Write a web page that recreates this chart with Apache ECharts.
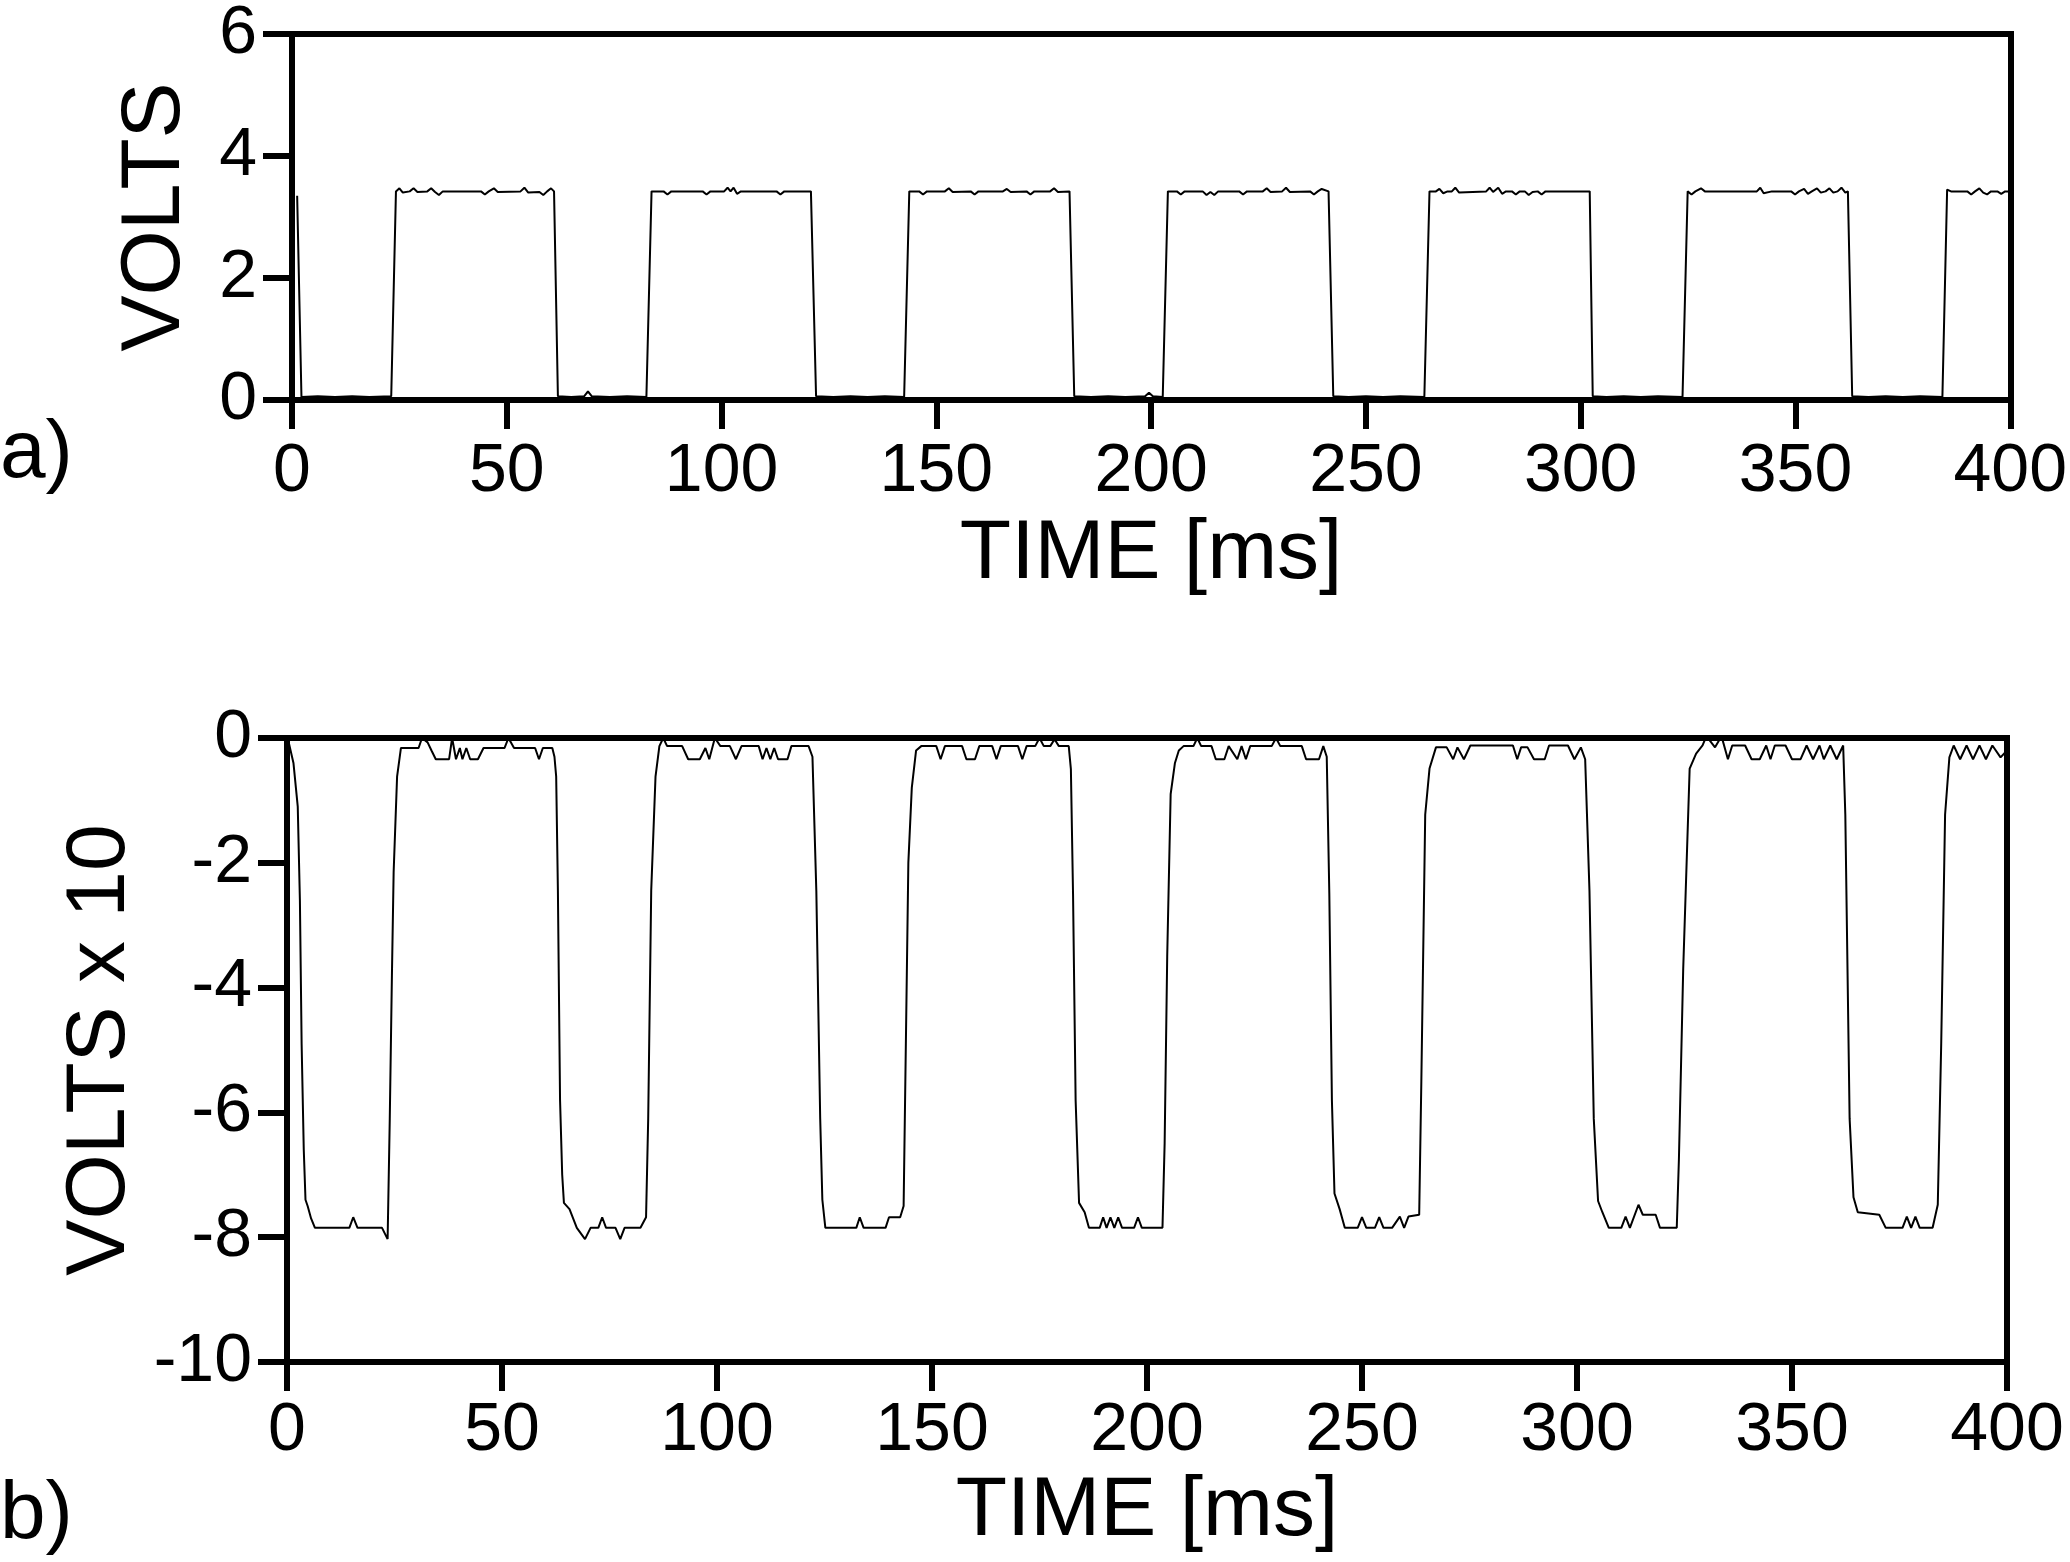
<!DOCTYPE html>
<html>
<head>
<meta charset="utf-8">
<script src="https://cdn.jsdelivr.net/npm/echarts@6/dist/echarts.min.js"></script>
<style>
html,body{margin:0;padding:0;background:#fff;}
#chart{width:2070px;height:1562px;}
</style>
</head>
<body>
<div id="chart"></div>
<script>
// ---- data ----
const xTicks = [0, 50, 100, 150, 200, 250, 300, 350, 400];
const yTicksA = [0, 2, 4, 6];
const yTicksB = [-10, -8, -6, -4, -2, 0];
const panelLabels = ['a)', 'b)'];
const xName = 'TIME [ms]';
const yNameA = 'VOLTS';
const yNameB = 'VOLTS x 10';

// panel a) : time [ms], volts
const seriesA = [
[1.2,3.35],[2.2,0.05],[6,0.06],[10,0.05],[14,0.06],[18,0.05],[23.1,0.06],
[24.2,3.42],[25.0,3.47],[25.8,3.40],[27.4,3.42],[28.3,3.47],[29.2,3.41],[31.5,3.42],[32.4,3.47],[33.3,3.41],[34.2,3.36],[35.1,3.42],[44.0,3.42],[44.9,3.37],[45.8,3.42],[47.0,3.47],[47.9,3.41],[53.2,3.42],[54.1,3.48],[55.0,3.40],[57.6,3.41],[58.5,3.36],[59.4,3.42],[60.3,3.47],[61.0,3.42],
[61.9,0.06],[65,0.05],[68.0,0.06],[68.9,0.14],[69.8,0.06],[74,0.05],[78,0.06],[82.5,0.05],
[83.7,3.42],[86.5,3.42],[87.4,3.37],[88.3,3.42],[95.6,3.42],[96.5,3.37],[97.4,3.42],[100.6,3.42],[101.4,3.48],[102.1,3.42],[102.8,3.48],[103.6,3.38],[104.5,3.42],[112.8,3.42],[113.7,3.37],[114.6,3.42],[120.8,3.42],
[122.0,0.06],[126,0.05],[130,0.06],[134,0.05],[138,0.06],[142.5,0.05],
[143.7,3.42],[146.0,3.42],[146.9,3.37],[147.8,3.42],[152.0,3.42],[152.9,3.47],[153.8,3.41],[158.0,3.42],[158.9,3.37],[159.8,3.42],[165.5,3.42],[166.4,3.46],[167.3,3.41],[171.0,3.42],[171.9,3.37],[172.8,3.42],[176.5,3.42],[177.4,3.47],[178.3,3.41],[181.0,3.42],
[182.1,0.06],[186,0.05],[190,0.06],[194,0.05],[198.6,0.06],[199.5,0.12],[200.4,0.06],[202.7,0.05],
[203.9,3.42],[206.0,3.42],[206.9,3.37],[207.8,3.42],[212.0,3.42],[212.9,3.36],[213.8,3.41],[214.7,3.36],[215.6,3.42],[220.5,3.42],[221.4,3.37],[222.3,3.42],[226.0,3.42],[226.9,3.47],[227.8,3.41],[230.5,3.42],[231.4,3.48],[232.3,3.41],[237.0,3.42],[237.9,3.37],[238.8,3.42],[239.7,3.46],[241.3,3.42],
[242.4,0.06],[246,0.05],[250,0.06],[254,0.05],[258,0.06],[263.6,0.05],
[264.8,3.42],[266.3,3.42],[267.1,3.46],[268.0,3.39],[269.0,3.42],[270.0,3.42],[270.8,3.48],[271.7,3.40],[278.0,3.42],[278.8,3.48],[279.6,3.41],[280.8,3.48],[281.7,3.38],[282.6,3.42],[284.0,3.42],[284.9,3.37],[285.8,3.42],[287.0,3.42],[287.9,3.36],[288.8,3.41],[290.0,3.42],[290.9,3.37],[291.8,3.42],[302.1,3.42],
[302.8,0.06],[306,0.05],[310,0.06],[314,0.05],[318,0.06],[323.7,0.05],
[324.9,3.42],[325.8,3.37],[326.7,3.42],[328.0,3.47],[328.9,3.42],[341.0,3.42],[341.8,3.48],[342.6,3.39],[344.5,3.42],[349.0,3.42],[349.9,3.37],[350.8,3.42],[352.0,3.46],[352.9,3.38],[353.8,3.42],[355.0,3.47],[355.9,3.40],[357.0,3.42],[357.9,3.47],[358.8,3.40],[359.8,3.42],[360.7,3.48],[361.6,3.40],[362.2,3.42],
[363.2,0.06],[367,0.05],[371,0.06],[375,0.05],[379,0.06],[384.2,0.05],
[385.3,3.45],[386.2,3.42],[390.0,3.42],[390.9,3.37],[391.8,3.42],[392.8,3.47],[393.7,3.40],[394.6,3.37],[395.5,3.42],[397.0,3.42],[397.9,3.38],[398.8,3.42],[400,3.42]
];

// panel b) : time [ms], volts x 10
const seriesB = [
[0,0],[0.5,-0.1],[1.5,-0.4],[2.5,-1.1],[3.0,-2.6],[3.4,-4.9],[3.9,-6.6],[4.3,-7.4],[4.8,-7.5],[5.6,-7.7],[6.5,-7.85],[14.5,-7.85],[15.4,-7.68],[16.4,-7.85],[22.1,-7.85],[23.4,-8.03],
[23.9,-6.1],[24.4,-3.8],[24.8,-2.15],[25.6,-0.62],[26.5,-0.16],[30.6,-0.16],[31.4,0],[32.7,-0.07],[33.6,-0.2],[34.6,-0.34],[37.7,-0.34],[38.4,0],[39.3,-0.34],[40.2,-0.16],[40.8,-0.34],[41.7,-0.16],[42.6,-0.34],[44.4,-0.34],[45.7,-0.16],[50.6,-0.16],[51.5,0],[52.8,-0.16],[57.7,-0.16],[58.6,-0.34],[59.5,-0.16],[61.7,-0.16],
[62.2,-0.3],[62.6,-0.62],[63.0,-2.45],[63.5,-5.8],[64.0,-7.0],[64.4,-7.45],[65.7,-7.55],[67.4,-7.85],[69.3,-8.03],[70.6,-7.85],[72.4,-7.85],[73.3,-7.68],[74.2,-7.85],[76.4,-7.85],[77.5,-8.03],[78.5,-7.85],[82.2,-7.85],[83.5,-7.68],
[84.0,-6.1],[84.7,-2.45],[85.7,-0.62],[86.6,-0.13],[87.5,0],[88.4,-0.13],[91.9,-0.13],[93.3,-0.34],[96,-0.34],[97.3,-0.16],[98.2,-0.34],[99.5,0],[100.8,-0.13],[103,-0.13],[104.4,-0.34],[105.7,-0.13],[109.7,-0.13],[110.6,-0.34],[111.5,-0.16],[112.4,-0.34],[113.3,-0.16],[114.2,-0.34],[116.4,-0.34],[117.3,-0.13],[121.3,-0.13],
[122.2,-0.3],[123.1,-2.45],[124.0,-6.1],[124.5,-7.4],[125.2,-7.85],[132.4,-7.85],[133.2,-7.68],[134.1,-7.85],[139.2,-7.85],[140.0,-7.68],[142.6,-7.68],[143.4,-7.5],
[143.9,-5.0],[144.5,-2.0],[145.3,-0.8],[146.3,-0.2],[147.5,-0.13],[151,-0.13],[152,-0.34],[153,-0.13],[157,-0.13],[158,-0.34],[160,-0.34],[161,-0.13],[164,-0.13],[165,-0.34],[166,-0.13],[170,-0.13],[171,-0.34],[172,-0.13],[174,-0.13],[175,0],[176,-0.13],[177.5,-0.13],[178.5,-0.02],[179.5,-0.13],[181.8,-0.13],
[182.3,-0.5],[182.8,-2.5],[183.4,-5.8],[184.2,-7.45],[185.5,-7.6],[186.5,-7.85],[189,-7.85],[189.8,-7.68],[190.6,-7.85],[191.5,-7.68],[192.4,-7.85],[193.3,-7.68],[194.2,-7.85],[197,-7.85],[197.9,-7.68],[198.8,-7.85],[203.6,-7.85],
[204.1,-6.5],[204.7,-3.5],[205.5,-0.9],[206.5,-0.4],[207.4,-0.2],[208.5,-0.13],[210.8,-0.13],[211.7,0],[212.6,-0.13],[215,-0.13],[216,-0.34],[218,-0.34],[219,-0.13],[221,-0.34],[222,-0.13],[223,-0.34],[224,-0.13],[229,-0.13],[230,0],[231,-0.13],[236,-0.13],[237,-0.34],[240,-0.34],[241,-0.13],
[241.8,-0.3],[242.4,-2.5],[243,-5.8],[243.6,-7.3],[244.8,-7.55],[246,-7.85],[249,-7.85],[250,-7.68],[251,-7.85],[253,-7.85],[254,-7.68],[255,-7.85],[257,-7.85],[258.8,-7.67],[259.8,-7.85],[260.8,-7.67],[263.3,-7.64],
[263.8,-5.5],[264.7,-1.23],[265.7,-0.49],[267.2,-0.15],[269.7,-0.15],[271.2,-0.34],[272.2,-0.15],[273.7,-0.34],[275.2,-0.12],[285.1,-0.12],[286.1,-0.34],[287.0,-0.15],[288.5,-0.15],[290.0,-0.34],[292.5,-0.34],[293.5,-0.12],[297.9,-0.12],[299.4,-0.34],[300.9,-0.15],[301.9,-0.34],
[302.9,-2.45],[303.9,-6.1],[304.9,-7.42],[305.9,-7.6],[307.4,-7.85],[310.3,-7.85],[311.3,-7.67],[312.3,-7.85],[314.3,-7.48],[315.3,-7.64],[318.3,-7.64],[319.3,-7.85],[323.2,-7.85],
[323.7,-6.75],[324.7,-3.7],[326.2,-0.49],[327.7,-0.25],[329.2,-0.12],[330.1,0.03],[332.1,-0.15],[333.6,0.03],[335.1,-0.34],[336.1,-0.12],[339.1,-0.12],[340.6,-0.34],[342.5,-0.34],[344.0,-0.12],[345.0,-0.34],[346.0,-0.12],[348.5,-0.12],[350.0,-0.34],[352.0,-0.34],[353.4,-0.12],[354.9,-0.34],[356.4,-0.12],[357.4,-0.34],[358.9,-0.12],[360.4,-0.34],[361.9,-0.12],
[362.4,-1.23],[363.4,-6.1],[364.3,-7.36],[365.3,-7.6],[370.3,-7.64],[371.8,-7.85],[375.7,-7.85],[376.7,-7.67],[377.7,-7.85],[378.7,-7.67],[379.7,-7.85],[382.7,-7.85],[383.9,-7.48],
[384.7,-4.9],[385.6,-1.23],[386.6,-0.31],[387.6,-0.12],[389.1,-0.34],[390.6,-0.12],[392.1,-0.34],[393.6,-0.12],[395.1,-0.34],[396.6,-0.12],[398.5,-0.31],[400,-0.2]
];

// ---- chart ----
const FONT = '"Liberation Sans", Arial, Helvetica, sans-serif';
const BLACK = '#000';
const AXW = 6;
const TICK_FS = 68;

function axisLineStyle(){ return {show:true, onZero:false, lineStyle:{color:BLACK, width:AXW, cap:'square'}}; }

function bottomX(grid, margin, gap){
  return {
    gridIndex: grid, type:'value', position:'bottom',
    min: xTicks[0], max: xTicks[xTicks.length-1], interval: xTicks[1]-xTicks[0],
    axisLine: axisLineStyle(),
    axisTick: {show:true, inside:false, length:29, lineStyle:{color:BLACK, width:AXW}},
    axisLabel: {show:true, margin: margin, color:BLACK, fontSize:TICK_FS, fontFamily:FONT},
    splitLine: {show:false},
    name: xName, nameLocation:'middle', nameGap: gap,
    nameTextStyle: {color:BLACK, fontSize:84, fontFamily:FONT}
  };
}
function topX(grid){
  return {
    gridIndex: grid, type:'value', position:'top',
    min: xTicks[0], max: xTicks[xTicks.length-1],
    axisLine: axisLineStyle(), axisTick:{show:false}, axisLabel:{show:false}, splitLine:{show:false}
  };
}
function leftY(grid, ticks, name, gap){
  return {
    gridIndex: grid, type:'value', position:'left',
    min: ticks[0], max: ticks[ticks.length-1], interval: ticks[1]-ticks[0],
    axisLine: axisLineStyle(),
    axisTick: {show:true, inside:false, length:29, lineStyle:{color:BLACK, width:AXW}},
    axisLabel: {show:true, margin:35, color:BLACK, fontSize:TICK_FS, fontFamily:FONT},
    splitLine: {show:false},
    name: name, nameLocation:'middle', nameGap: gap, nameRotate: 90,
    nameTextStyle: {color:BLACK, fontSize:84, fontFamily:FONT}
  };
}
function rightY(grid, ticks){
  return {
    gridIndex: grid, type:'value', position:'right',
    min: ticks[0], max: ticks[ticks.length-1],
    axisLine: axisLineStyle(), axisTick:{show:false}, axisLabel:{show:false}, splitLine:{show:false}
  };
}

const option = {
  animation: false,
  backgroundColor: '#fff',
  grid: [
    {left:292, top:27, width:1719, height:373},
    {left:287, top:738, width:1720, height:624}
  ],
  xAxis: [bottomX(0, 38, 113), bottomX(1, 35, 108), topX(0), topX(1)],
  yAxis: [leftY(0, yTicksA, yNameA, 94), leftY(1, yTicksB, yNameB, 138), rightY(0, yTicksA), rightY(1, yTicksB)],
  series: [
    {type:'line', xAxisIndex:0, yAxisIndex:0, data:seriesA, showSymbol:false, symbol:'none', clip:false,
     lineStyle:{color:BLACK, width:2}, z:1},
    {type:'line', xAxisIndex:1, yAxisIndex:1, data:seriesB, showSymbol:false, symbol:'none', clip:false,
     lineStyle:{color:BLACK, width:2}, z:1}
  ],
  graphic: [
    {type:'text', left:0, top:413, style:{text:panelLabels[0], fill:BLACK, font:'82px "Liberation Sans", Arial, sans-serif'}},
    {type:'text', left:0, top:1474, style:{text:panelLabels[1], fill:BLACK, font:'82px "Liberation Sans", Arial, sans-serif'}}
  ]
};

const chart = echarts.init(document.getElementById('chart'), null, {renderer:'canvas'});
chart.setOption(option);
</script>
</body>
</html>
